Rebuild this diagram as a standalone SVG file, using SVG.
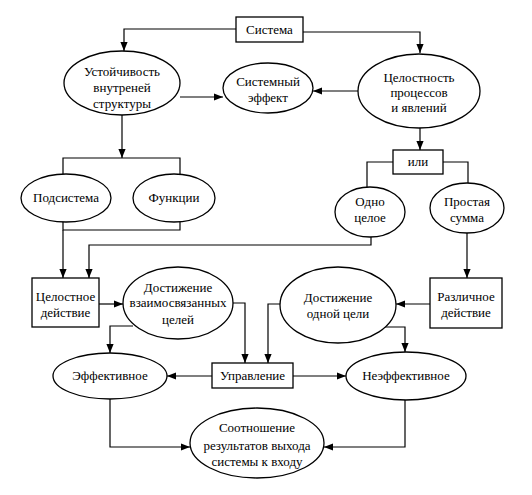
<svg xmlns="http://www.w3.org/2000/svg" width="532" height="495" viewBox="0 0 532 495" font-family="Liberation Serif, DejaVu Serif, serif">
<style>
.n{fill:#fff;stroke:#000;stroke-width:1.3}
text{font-family:"Liberation Serif",serif;font-size:13px;fill:#000;text-anchor:middle}
.c{fill:none;stroke:#000;stroke-width:1.2}
</style>
<defs>
<marker id="a" viewBox="0 0 10 8" refX="10" refY="4" markerWidth="9" markerHeight="7.5" markerUnits="userSpaceOnUse" orient="auto">
<path d="M0,0 L10,4 L0,8 Z" fill="#000"/>
</marker>
</defs>
<rect width="532" height="495" fill="#fff"/>
<g id="connectors">
<path class="c" d="M236,29 H124 V51" marker-end="url(#a)"/>
<path class="c" d="M303,32 H420 V53" marker-end="url(#a)"/>
<path class="c" d="M180,97 H223" marker-end="url(#a)"/>
<path class="c" d="M358,91 H313" marker-end="url(#a)"/>
<path class="c" d="M420,128 V150" marker-end="url(#a)"/>
<path class="c" d="M393,162 H367 V188"/>
<path class="c" d="M443,162 H468 V183"/>
<path class="c" d="M467,233 V278" marker-end="url(#a)"/>
<path class="c" d="M430,304 H396" marker-end="url(#a)"/>
<path class="c" d="M122,115 V158" marker-end="url(#a)"/>
<path class="c" d="M63,177 V158 H180 V177"/>
<path class="c" d="M63,221 V230 H180 V220"/>
<path class="c" d="M63,230 V278" marker-end="url(#a)"/>
<path class="c" d="M371,237 V245 H89 V278" marker-end="url(#a)"/>
<path class="c" d="M99,304 H123" marker-end="url(#a)"/>
<path class="c" d="M232,303 H245 V363" marker-end="url(#a)"/>
<path class="c" d="M281,304 H268 V363" marker-end="url(#a)"/>
<path class="c" d="M212,376 H167" marker-end="url(#a)"/>
<path class="c" d="M293,376 H346" marker-end="url(#a)"/>
<path class="c" d="M133,326 H110 V353" marker-end="url(#a)"/>
<path class="c" d="M383,327 H405 V352" marker-end="url(#a)"/>
<path class="c" d="M110,399 V447 H190" marker-end="url(#a)"/>
<path class="c" d="M405,400 V447 H324" marker-end="url(#a)"/>
</g>
<g id="sistema"><rect class="n" x="236" y="17" width="67" height="25"/><text x="269.5" y="34">Система</text></g>
<g id="ustoichivost"><ellipse class="n" cx="122" cy="83" rx="58" ry="32"/><text x="122" y="76">Устойчивость</text><text x="122" y="92">внутреней</text><text x="122" y="108">структуры</text></g>
<g id="effekt"><ellipse class="n" cx="268" cy="88" rx="45" ry="25"/><text x="268" y="86">Системный</text><text x="268" y="102">эффект</text></g>
<g id="celostnost"><ellipse class="n" cx="419" cy="91" rx="61" ry="37"/><text x="419" y="82">Целостность</text><text x="419" y="97">процессов</text><text x="419" y="112">и явлений</text></g>
<g id="ili"><rect class="n" x="393" y="150" width="50" height="24"/><text x="418" y="166">или</text></g>
<g id="podsistema"><ellipse class="n" cx="66" cy="198" rx="45" ry="24"/><text x="66" y="202">Подсистема</text></g>
<g id="funkcii"><ellipse class="n" cx="174" cy="198" rx="41" ry="24"/><text x="174" y="202">Функции</text></g>
<g id="odno"><ellipse class="n" cx="370" cy="212" rx="35" ry="25"/><text x="370" y="206">Одно</text><text x="370" y="222">целое</text></g>
<g id="prostaya"><ellipse class="n" cx="467" cy="208" rx="37" ry="25"/><text x="467" y="206">Простая</text><text x="467" y="222">сумма</text></g>
<g id="celostnoe"><rect class="n" x="32" y="278" width="67" height="49"/><text x="65.5" y="301">Целостное</text><text x="65.5" y="317">действие</text></g>
<g id="vzaimo"><ellipse class="n" cx="178" cy="303" rx="55" ry="36"/><text x="178" y="292">Достижение</text><text x="178" y="307">взаимосвязанных</text><text x="178" y="324">целей</text></g>
<g id="odnoi"><ellipse class="n" cx="338" cy="305" rx="58" ry="38"/><text x="338" y="302">Достижение</text><text x="338" y="318">одной цели</text></g>
<g id="razlichnoe"><rect class="n" x="430" y="278" width="72" height="50"/><text x="466" y="301">Различное</text><text x="466" y="317">действие</text></g>
<g id="upravlenie"><rect class="n" x="212" y="363" width="81" height="25"/><text x="252.5" y="380">Управление</text></g>
<g id="effektivnoe"><ellipse class="n" cx="110" cy="376" rx="57" ry="23"/><text x="110" y="380">Эффективное</text></g>
<g id="neeffektivnoe"><ellipse class="n" cx="406" cy="376" rx="60" ry="24"/><text x="406" y="380">Неэффективное</text></g>
<g id="sootnoshenie"><ellipse class="n" cx="257" cy="443" rx="67" ry="35"/><text x="257" y="432">Соотношение</text><text x="257" y="450">результатов выхода</text><text x="257" y="466">системы к входу</text></g>
</svg>
